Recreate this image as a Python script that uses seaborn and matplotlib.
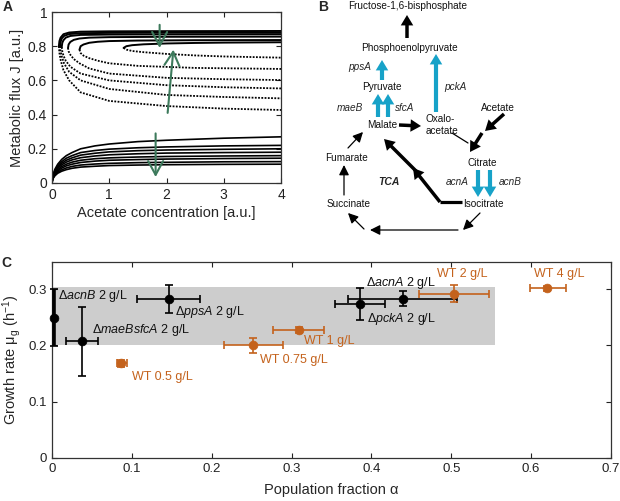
import numpy as np
import pandas as pd
import matplotlib
matplotlib.use("Agg")
import matplotlib.pyplot as plt
import seaborn as sns

sns.set_theme(style="ticks")
plt.rcParams["font.family"] = ["Liberation Sans", "DejaVu Sans"]
plt.rcParams["mathtext.fontset"] = "custom"
plt.rcParams["mathtext.rm"] = "Liberation Sans"
plt.rcParams["mathtext.it"] = "Liberation Sans:italic"
plt.rcParams["mathtext.bf"] = "Liberation Sans:bold"

# ---- panel A: flux curves ----
# low-flux branch (8 curves)
low_x = [0, 0.01, 0.02, 0.05, 0.1, 0.17, 0.25, 0.35, 0.5, 0.75, 1, 1.5, 2, 3, 4]
low_y = [
    [0, 0.035, 0.050, 0.080, 0.110, 0.138, 0.160, 0.178, 0.200, 0.217, 0.228, 0.242, 0.250, 0.262, 0.270],
    [0, 0.032, 0.045, 0.072, 0.100, 0.125, 0.145, 0.160, 0.178, 0.190, 0.198, 0.206, 0.211, 0.217, 0.220],
    [0, 0.030, 0.042, 0.067, 0.093, 0.115, 0.133, 0.147, 0.163, 0.174, 0.182, 0.189, 0.193, 0.197, 0.200],
    [0, 0.028, 0.039, 0.062, 0.086, 0.106, 0.122, 0.135, 0.148, 0.158, 0.165, 0.171, 0.175, 0.178, 0.180],
    [0, 0.026, 0.036, 0.057, 0.078, 0.096, 0.110, 0.122, 0.133, 0.142, 0.147, 0.152, 0.155, 0.158, 0.160],
    [0, 0.024, 0.033, 0.052, 0.071, 0.087, 0.100, 0.110, 0.120, 0.128, 0.133, 0.137, 0.140, 0.143, 0.145],
    [0, 0.022, 0.030, 0.047, 0.064, 0.077, 0.088, 0.097, 0.105, 0.111, 0.115, 0.119, 0.121, 0.124, 0.125],
    [0, 0.020, 0.027, 0.042, 0.057, 0.069, 0.078, 0.086, 0.093, 0.098, 0.102, 0.105, 0.107, 0.109, 0.110],
]

# high-flux branch: stable (solid) and unstable (dotted) parts, 6 folds
stable_x = [
    [0.12, 0.13, 0.15, 0.2, 0.3, 0.5, 1, 2, 4],
    [0.14, 0.15, 0.17, 0.21, 0.3, 0.5, 1, 2, 4],
    [0.17, 0.18, 0.20, 0.24, 0.32, 0.5, 1, 2, 4],
    [0.28, 0.29, 0.32, 0.38, 0.48, 0.65, 1, 2, 4],
    [0.48, 0.50, 0.55, 0.65, 0.8, 1.0, 1.5, 2.5, 4],
    [1.25, 1.30, 1.40, 1.6, 2.0, 2.5, 3, 4],
]
stable_y = [
    [0.80, 0.83, 0.85, 0.870, 0.880, 0.885, 0.887, 0.888, 0.889],
    [0.80, 0.825, 0.845, 0.860, 0.871, 0.876, 0.878, 0.879, 0.879],
    [0.795, 0.82, 0.835, 0.850, 0.860, 0.866, 0.868, 0.869, 0.870],
    [0.79, 0.81, 0.825, 0.837, 0.845, 0.850, 0.853, 0.855, 0.856],
    [0.78, 0.80, 0.81, 0.820, 0.826, 0.830, 0.833, 0.835, 0.836],
    [0.79, 0.80, 0.806, 0.811, 0.816, 0.819, 0.821, 0.823],
]
unstable_x = [
    [0.12, 0.13, 0.15, 0.2, 0.3, 0.5, 1, 2, 3, 4],
    [0.14, 0.15, 0.17, 0.21, 0.3, 0.5, 1, 2, 3, 4],
    [0.17, 0.18, 0.20, 0.24, 0.32, 0.5, 1, 2, 3, 4],
    [0.28, 0.29, 0.32, 0.38, 0.48, 0.65, 1, 2, 3, 4],
    [0.48, 0.50, 0.55, 0.65, 0.8, 1.0, 1.5, 2.5, 4],
    [1.25, 1.30, 1.40, 1.6, 2.0, 2.5, 3, 4],
]
unstable_y = [
    [0.80, 0.76, 0.72, 0.66, 0.60, 0.53, 0.48, 0.45, 0.435, 0.427],
    [0.80, 0.77, 0.74, 0.70, 0.65, 0.60, 0.55, 0.515, 0.503, 0.495],
    [0.795, 0.77, 0.745, 0.715, 0.68, 0.64, 0.60, 0.572, 0.560, 0.553],
    [0.79, 0.77, 0.75, 0.725, 0.70, 0.67, 0.64, 0.615, 0.607, 0.602],
    [0.78, 0.76, 0.745, 0.73, 0.715, 0.70, 0.685, 0.673, 0.667],
    [0.79, 0.78, 0.772, 0.765, 0.755, 0.746, 0.740, 0.733],
]

# ---- panel C: growth rate vs population fraction ----
mut_names = ["acnB", "maeBsfcA", "ppsA", "pckA", "acnA"]
mut_x = [0.002, 0.038, 0.146, 0.386, 0.439]
mut_y = [0.249, 0.208, 0.282, 0.274, 0.283]
mut_xlo = [0.002, 0.017, 0.106, 0.355, 0.371]
mut_xhi = [0.002, 0.058, 0.185, 0.417, 0.507]
mut_ylo = [0.199, 0.146, 0.257, 0.245, 0.270]
mut_yhi = [0.300, 0.268, 0.307, 0.301, 0.297]

wt_conc = ["0.5", "0.75", "1", "2", "4"]
wt_x = [0.087, 0.252, 0.309, 0.503, 0.620]
wt_y = [0.168, 0.200, 0.227, 0.292, 0.301]
wt_xlo = [0.081, 0.215, 0.277, 0.459, 0.598]
wt_xhi = [0.094, 0.289, 0.341, 0.547, 0.644]
wt_ylo = [0.162, 0.187, 0.222, 0.277, 0.296]
wt_yhi = [0.174, 0.213, 0.232, 0.308, 0.306]

band_x = [0, 0.555]
band_y = [0.200, 0.304]

GREEN = "#3d7a5c"
CYAN = "#17a2c8"
ORANGE = "#c4621c"

fig = plt.figure(figsize=(6.2, 5.01), dpi=100)


def style_axes(ax, labelsize):
    ax.tick_params(direction="in", top=True, right=True, length=3.5, width=0.8,
                   labelsize=labelsize, colors="#222222")
    for s in ax.spines.values():
        s.set_linewidth(0.9)
        s.set_color("#333333")


# ---------------- A ----------------
axA = fig.add_axes([52 / 620, 1 - 183 / 501, 229 / 620, 171 / 501])
for ys in low_y:
    sns.lineplot(x=low_x, y=ys, ax=axA, color="black", lw=1.2, estimator=None, sort=False)
for xs, ys in zip(stable_x, stable_y):
    sns.lineplot(x=xs, y=ys, ax=axA, color="black", lw=1.4, estimator=None, sort=False)
for xs, ys in zip(unstable_x, unstable_y):
    sns.lineplot(x=xs, y=ys, ax=axA, color="black", lw=1.3, estimator=None, sort=False,
                 linestyle=(0, (1, 0.8)))
arr = dict(arrowstyle="->,head_length=0.55,head_width=0.3", color=GREEN, lw=1.5,
           shrinkA=0, shrinkB=0, mutation_scale=18)
axA.annotate("", xy=(1.88, 0.79), xytext=(1.88, 0.925), arrowprops=arr)
axA.annotate("", xy=(2.12, 0.78), xytext=(2.02, 0.41), arrowprops=arr)
axA.annotate("", xy=(1.81, 0.035), xytext=(1.81, 0.29), arrowprops=arr)
axA.set_xlim(0, 4)
axA.set_ylim(0, 1)
axA.set_xticks([0, 1, 2, 3, 4])
axA.set_xticklabels(["0", "1", "2", "3", "4"])
axA.set_yticks([0, 0.2, 0.4, 0.6, 0.8, 1])
axA.set_yticklabels(["0", "0.2", "0.4", "0.6", "0.8", "1"])
axA.set_xlabel("Acetate concentration [a.u.]", fontsize=10.5, labelpad=3)
axA.set_ylabel("Metabolic flux J [a.u.]", fontsize=10.5, labelpad=3)
style_axes(axA, 10)

# ---------------- B ----------------
axB = fig.add_axes([300 / 620, 1 - 240 / 501, 320 / 620, 240 / 501])
axB.set_xlim(300, 620)
axB.set_ylim(240, 0)
axB.axis("off")

metabolites = {
    "Fructose-1,6-bisphosphate": (408, 6),
    "Phosphoenolpyruvate": (409, 48),
    "Pyruvate": (382, 87),
    "Malate": (382, 125),
    "Acetate": (498, 108),
    "Citrate": (482, 163),
    "Isocitrate": (483, 204),
    "Succinate": (349, 204),
    "Fumarate": (346, 158),
}
for name, (x, y) in metabolites.items():
    axB.text(x, y, name, ha="center", va="center", fontsize=7.2, color="#111111")
axB.text(426, 125, "Oxalo-\nacetate", ha="left", va="center", fontsize=7.2,
         color="#111111", linespacing=1.2)

genes = {"ppsA": (360, 67), "maeB": (350, 108), "sfcA": (405, 108),
         "pckA": (455, 87), "acnA": (457, 182), "acnB": (510, 182)}
for name, (x, y) in genes.items():
    axB.text(x, y, name, ha="center", va="center", fontsize=7.2, style="italic")
axB.text(389, 182, "TCA", ha="center", va="center", fontsize=7.5, style="italic",
         weight="bold")

cyan_arrows = [((382, 80), (382, 60)), ((378, 117), (378, 94)), ((388, 117), (388, 94)),
               ((436, 112), (436, 54)), ((478, 170), (478, 197)), ((490, 170), (490, 197))]
for tail, head in cyan_arrows:
    axB.annotate("", xy=head, xytext=tail,
                 arrowprops=dict(arrowstyle="simple,head_length=0.75,head_width=0.9,tail_width=0.3",
                                 color=CYAN, lw=0, shrinkA=0, shrinkB=0, mutation_scale=10))

thick_arrows = [((407, 38), (407, 15)), ((399, 125), (421, 126)), ((504, 114), (485, 131)),
                ((482, 133), (470, 152)), ((440, 202), (413, 168)), ((416, 171), (384, 139))]
for tail, head in thick_arrows:
    axB.annotate("", xy=head, xytext=tail,
                 arrowprops=dict(arrowstyle="simple,head_length=0.75,head_width=0.9,tail_width=0.25",
                                 color="black", lw=0, shrinkA=0, shrinkB=0, mutation_scale=10))
axB.plot([462, 440], [202, 202], color="black", lw=2.3, solid_capstyle="butt")
axB.plot([452, 468], [133, 143], color="black", lw=0.9)

thin_arrows = [((480, 213), (463, 230)), ((458, 230), (370, 230)), ((364, 229), (348, 213)),
               ((344, 195), (344, 165)), ((348, 148), (363, 132))]
for tail, head in thin_arrows:
    axB.annotate("", xy=head, xytext=tail,
                 arrowprops=dict(arrowstyle="-|>,head_length=0.6,head_width=0.3",
                                 color="black", lw=0.9, shrinkA=0, shrinkB=0,
                                 mutation_scale=10))

# ---------------- C ----------------
axC = fig.add_axes([52 / 620, 1 - 458 / 501, 559 / 620, 196 / 501])
axC.fill_between(band_x, band_y[0], band_y[1], color="#cdcdcd", lw=0, zorder=0)

mut = pd.DataFrame({"name": mut_names, "x": mut_x, "y": mut_y, "xlo": mut_xlo,
                    "xhi": mut_xhi, "ylo": mut_ylo, "yhi": mut_yhi})
wt = pd.DataFrame({"conc": wt_conc, "x": wt_x, "y": wt_y, "xlo": wt_xlo,
                   "xhi": wt_xhi, "ylo": wt_ylo, "yhi": wt_yhi})

for df, col in [(mut, "black"), (wt, ORANGE)]:
    for _, r in df.iterrows():
        lw = 2.6 if r.get("name", "") == "acnB" else 1.2
        axC.errorbar(r.x, r.y, xerr=[[r.x - r.xlo], [r.xhi - r.x]],
                     yerr=[[r.y - r.ylo], [r.yhi - r.y]], fmt="none", ecolor=col,
                     elinewidth=lw, capsize=3, capthick=1.2, clip_on=False, zorder=3)
    sns.scatterplot(data=df, x="x", y="y", ax=axC, color=col, edgecolor=col, s=40,
                    zorder=4, clip_on=False, legend=False)

mut_text = {"acnB": (0.008, 0.287), "maeBsfcA": (0.050, 0.227), "ppsA": (0.154, 0.259),
            "pckA": (0.394, 0.247), "acnA": (0.393, 0.311)}
for name in mut_names:
    tx, ty = mut_text[name]
    axC.text(tx, ty, "Δ$\\mathit{" + name + "}$ 2 g/L", ha="left", va="center",
             fontsize=9, color="#111111")
wt_text = {"0.5": (0.100, 0.144), "0.75": (0.260, 0.174), "1": (0.315, 0.208),
           "2": (0.482, 0.327), "4": (0.604, 0.327)}
for c in wt_conc:
    tx, ty = wt_text[c]
    axC.text(tx, ty, "WT " + c + " g/L", ha="left", va="center", fontsize=9, color=ORANGE)

axC.set_xlim(0, 0.7)
axC.set_ylim(0, 0.348)
axC.set_xticks([0, 0.1, 0.2, 0.3, 0.4, 0.5, 0.6, 0.7])
axC.set_xticklabels(["0", "0.1", "0.2", "0.3", "0.4", "0.5", "0.6", "0.7"])
axC.set_yticks([0, 0.1, 0.2, 0.3])
axC.set_yticklabels(["0", "0.1", "0.2", "0.3"])
axC.set_xlabel("Population fraction α", fontsize=10.5, labelpad=6)
axC.set_ylabel("Growth rate μ$_\\mathregular{g}$ (h$^\\mathregular{-1}$)", fontsize=10.5,
               labelpad=4)
style_axes(axC, 9.5)

fig.text(8 / 620, 1 - 7 / 501, "A", fontsize=10, weight="bold", ha="center", va="center")
fig.text(323 / 620, 1 - 7 / 501, "B", fontsize=10, weight="bold", ha="center", va="center")
fig.text(6 / 620, 1 - 263 / 501, "C", fontsize=10, weight="bold", ha="center", va="center")

fig.savefig("out.png", dpi=100)
